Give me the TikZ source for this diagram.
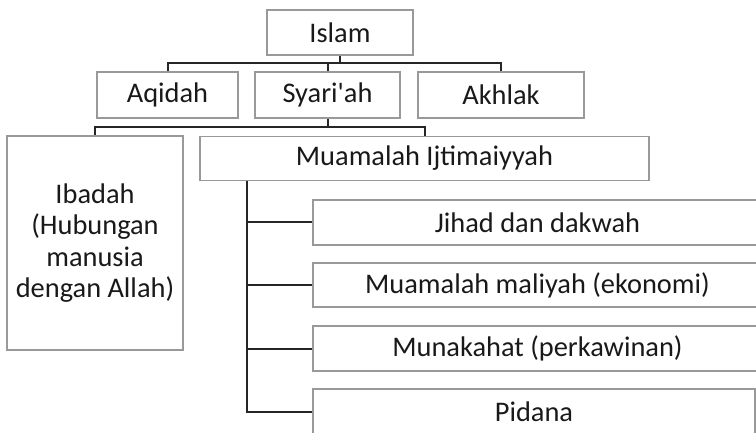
\documentclass[tikz,border=0pt]{standalone}
\usepackage{fontspec}
\setmainfont{Carlito}
\usetikzlibrary{positioning,calc}

\begin{document}
\begin{tikzpicture}[
    x=0.5pt, y=-0.5pt,
    box/.style  = {draw=black!40, line width=0.6pt, inner sep=0pt,
                   align=center, text=black!90, font=\fontsize{14.2}{15.6}\selectfont},
    link/.style = {draw=black!85, line width=1pt},
]
\useasboundingbox (0,0) rectangle (756,433);
% top level
\node[box, minimum width=73pt,  minimum height=22.5pt] (islam)   at (340,32.5)  {Islam};
\node[box, minimum width=70.5pt,minimum height=23pt]   (aqidah)  at (167.5,95)  {Aqidah};
\node[box, minimum width=72.5pt,minimum height=23pt]   (syariah) at (327.5,95)  {Syari\textquotesingle ah};
\node[box, minimum width=83pt,  minimum height=23pt]   (akhlak)  at (501,95)    {Akhlak};
% second level
\node[box, minimum width=88pt,  minimum height=107pt]  (ibadah)  at (95,243)
     {Ibadah\\(Hubungan\\manusia\\dengan Allah)};
\node[box, minimum width=224.5pt,minimum height=22pt]  (ijtima)  at (424.5,158.5) {Muamalah Ijtimaiyyah};
% branches of muamalah
\node[box, minimum width=224.5pt,minimum height=22.5pt] (jihad)   at (537.5,222.5) {Jihad dan dakwah};
\node[box, minimum width=224.5pt,minimum height=22pt]   (maliyah) at (537.5,285)   {Muamalah maliyah (ekonomi)};
\node[box, minimum width=224.5pt,minimum height=22.5pt] (nikah)   at (537.5,348.5) {Munakahat (perkawinan)};
\node[box, minimum width=221pt, minimum height=22.5pt]  (pidana)  at (534,411.5)   {Pidana};

\coordinate (bar1)  at (0,63);
\coordinate (bar2)  at (0,127);
\coordinate (trunk) at (247,0);

\draw[link] (islam.south) -- (islam.south |- bar1);
\draw[link] (aqidah.north) |- (bar1 -| akhlak.north) -- (akhlak.north);
\draw[link] (syariah.north) -- (syariah.north |- bar1);

\draw[link] (syariah.south) -- (syariah.south |- bar2);
\draw[link] (ibadah.north) |- (bar2 -| ijtima.north) -- (ijtima.north);

\draw[link] (trunk |- ijtima.south) |- (pidana.west);
\foreach \n in {jihad, maliyah, nikah}
  \draw[link] (trunk |- \n.west) -- (\n.west);
\end{tikzpicture}
\end{document}
